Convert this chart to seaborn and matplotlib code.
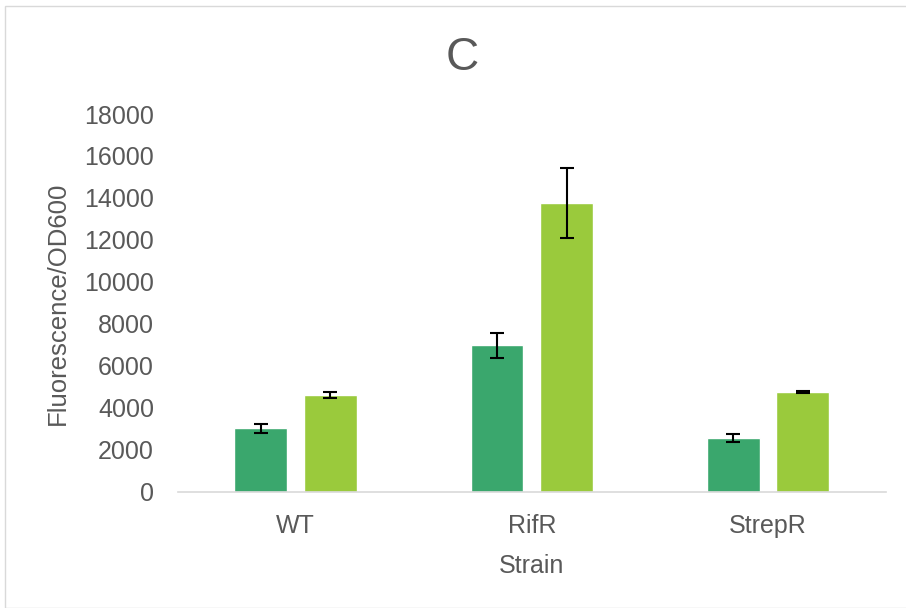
"""Recreate bar chart C: fluorescence/OD600 by strain, two conditions."""
import matplotlib.pyplot as plt
import matplotlib.patches as mpatches
import pandas as pd
import seaborn as sns

#####################################
# Data
#####################################

strains = ["WT", "RifR", "StrepR"]
conditions = ["A", "B"]
means_a = [3020, 6980, 2570]
means_b = [4620, 13760, 4760]
errs_a = [210, 600, 190]
errs_b = [130, 1690, 50]
colors = ["#3aa76d", "#9aca3c"]

df = pd.DataFrame({
    "Strain": strains * 2,
    "cond": ["A"] * 3 + ["B"] * 3,
    "value": means_a + means_b,
    "err": errs_a + errs_b,
})

#####################################
# Plot
#####################################

sns.set_style("white")
plt.rcParams["font.family"] = ["Liberation Sans", "DejaVu Sans"]
grey = "#595959"

fig = plt.figure(figsize=(9.06, 6.08), dpi=100)
ax = fig.add_axes([0.196, 0.191, 0.782, 0.6215])

sns.barplot(data=df, x="Strain", y="value", hue="cond", order=strains,
            hue_order=conditions, palette=colors, width=0.59, gap=0.24,
            errorbar=None, legend=False, ax=ax, saturation=1)

# error bars at bar centres
for cond, container in zip(conditions, ax.containers):
    sub = df[df["cond"] == cond].set_index("Strain").loc[strains]
    xs = [p.get_x() + p.get_width() / 2 for p in container.patches]
    ax.errorbar(xs, sub["value"], yerr=sub["err"], fmt="none",
                ecolor="black", elinewidth=1.5, capsize=5, capthick=1.5)

ax.set_ylim(0, 18000)
ax.set_xlim(-0.5, 2.5)
ax.set_yticks(range(0, 18001, 2000))
ax.tick_params(axis="both", labelsize=18, colors=grey, length=0)
ax.tick_params(axis="y", pad=17)
ax.tick_params(axis="x", pad=16)
for s in ["top", "right", "left"]:
    ax.spines[s].set_visible(False)
ax.spines["bottom"].set_color("#d9d9d9")
ax.spines["bottom"].set_linewidth(1.2)

ax.set_xlabel("Strain", fontsize=18, color=grey)
ax.set_ylabel("Fluorescence/OD600", fontsize=18.5, color=grey)
ax.xaxis.set_label_coords(0.5, -0.165)
ax.yaxis.set_label_coords(-0.152, 0.5)
fig.text(0.51, 0.905, "C", fontsize=33, color=grey, ha="center", va="center")

fig.patches.append(mpatches.Rectangle((5 / 906, 0), 1, 1 - 6 / 608,
                                      transform=fig.transFigure, fill=False,
                                      edgecolor="#d9d9d9", linewidth=1))

fig.savefig("out.png", dpi=100)
